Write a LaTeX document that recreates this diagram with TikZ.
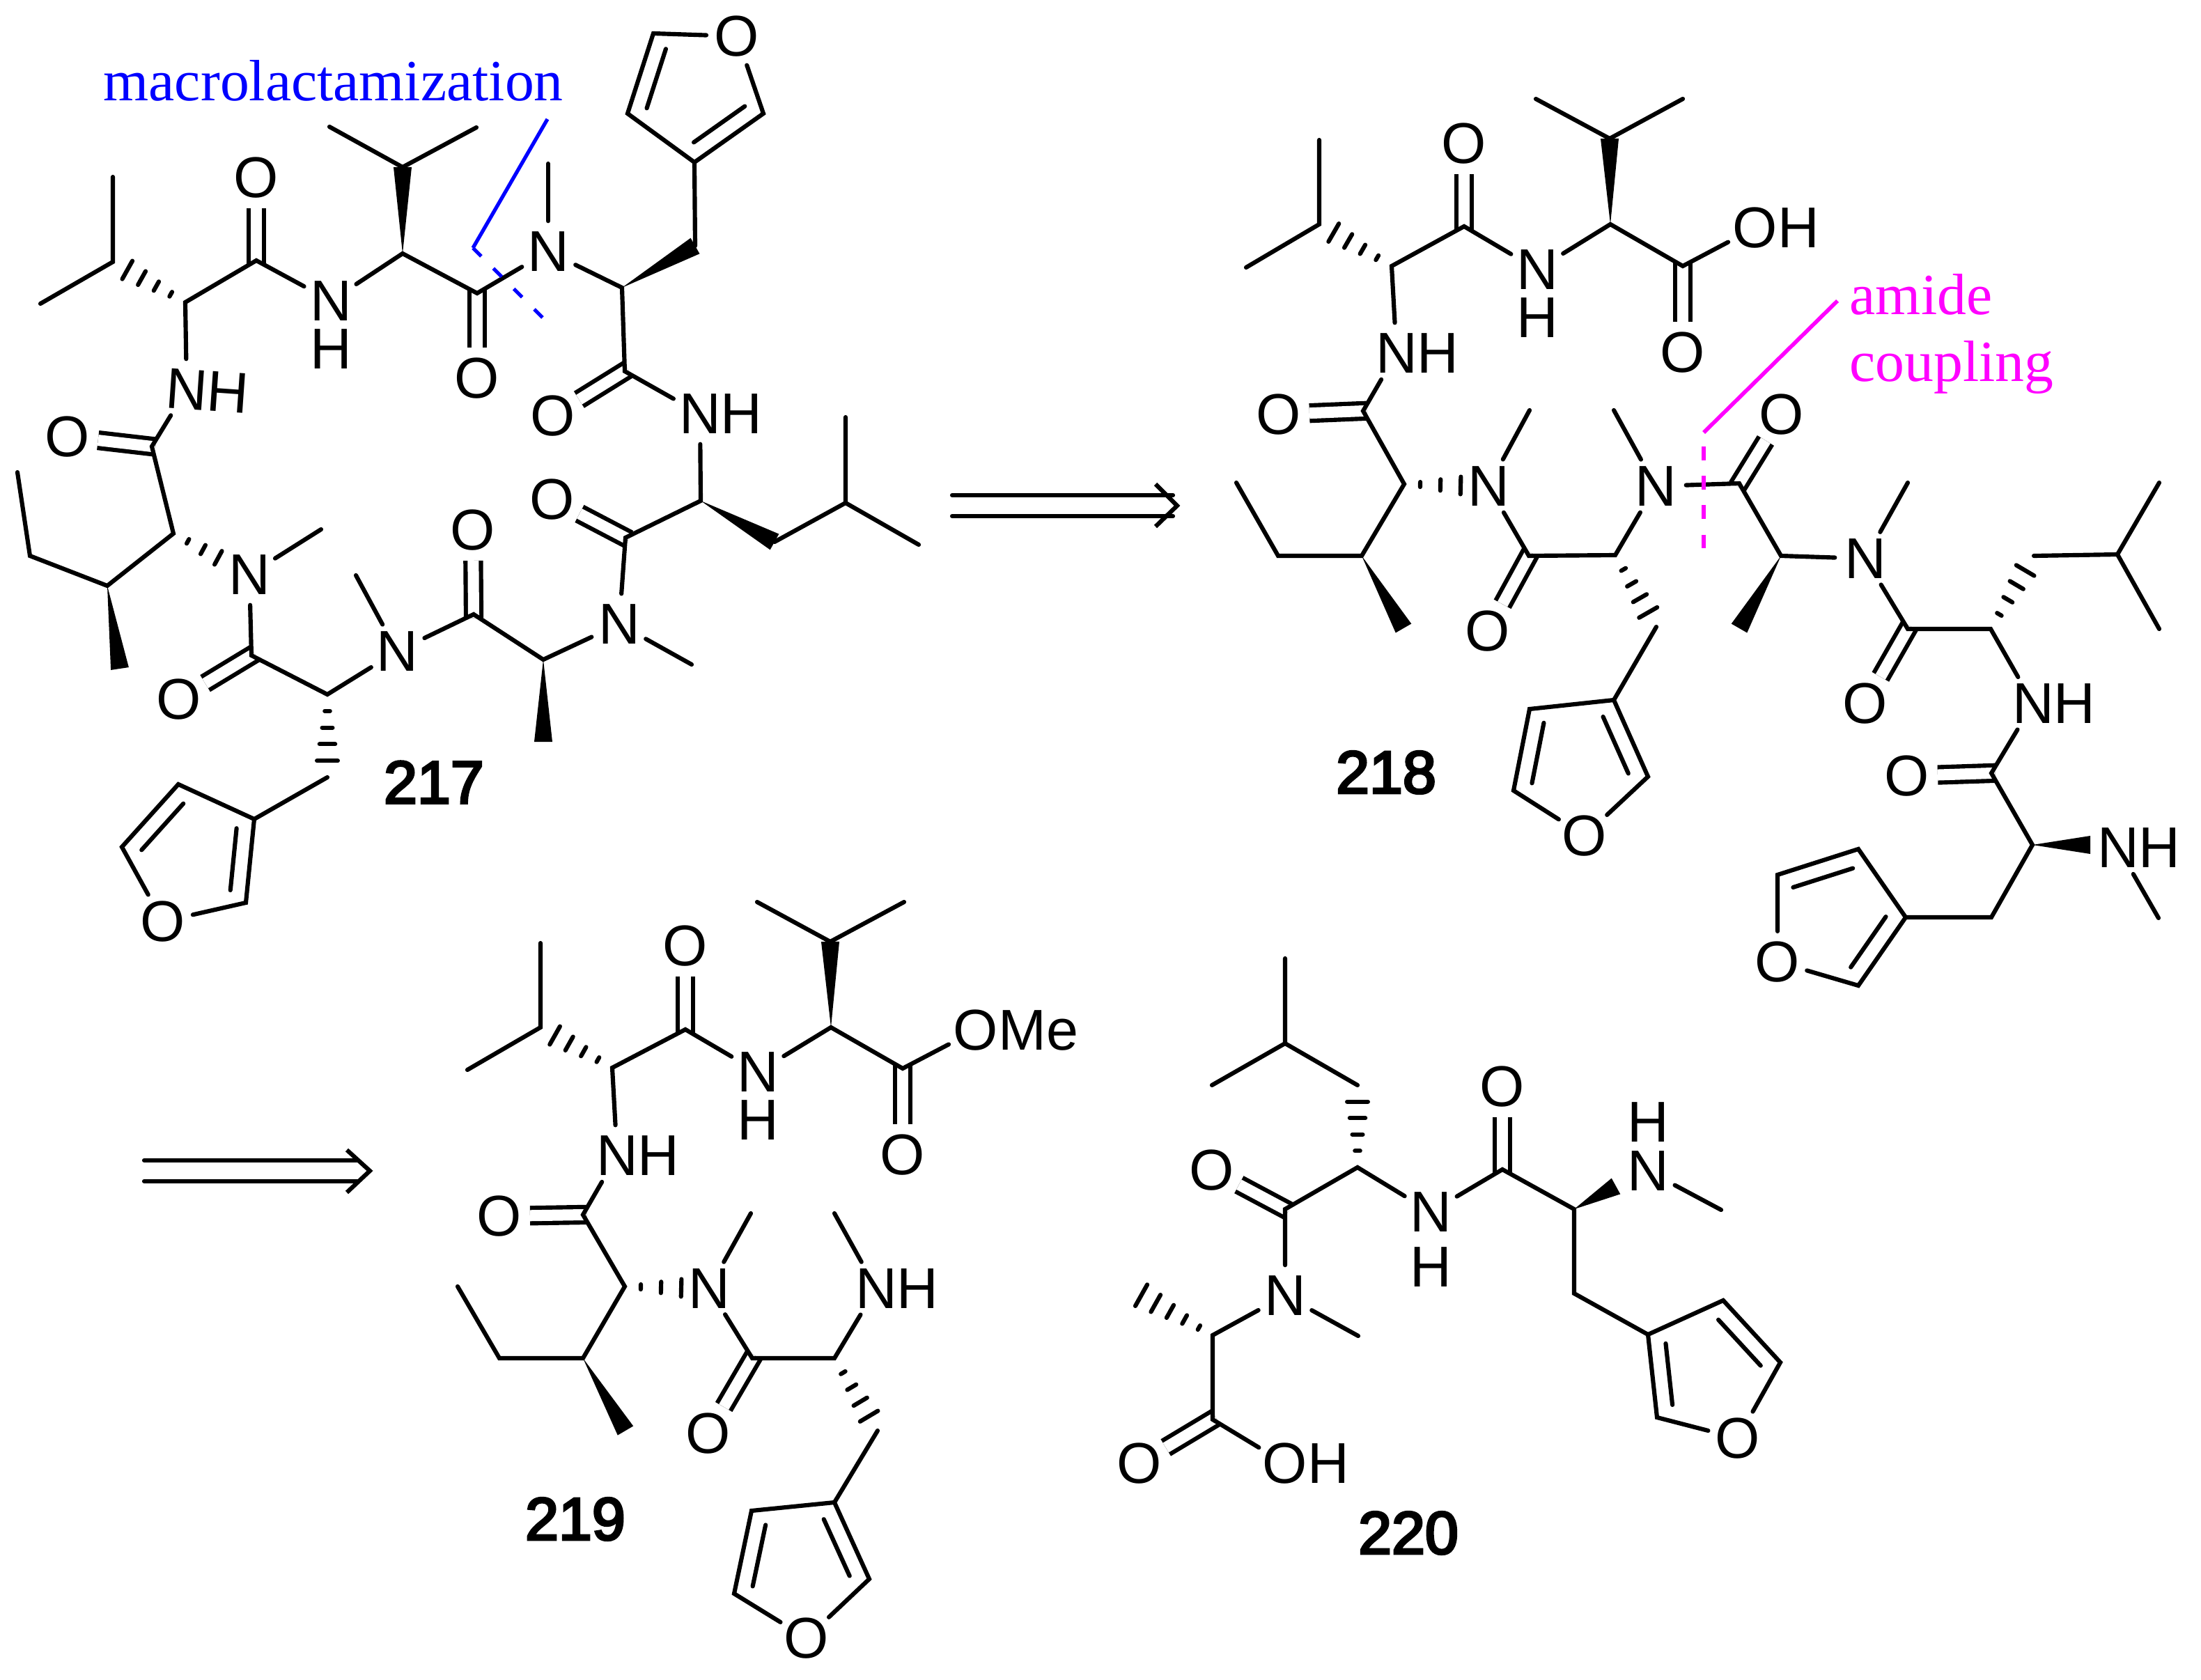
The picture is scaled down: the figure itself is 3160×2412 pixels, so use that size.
\documentclass[tikz,border=0pt]{standalone}
\usepackage{fontspec}
\setmainfont{Liberation Sans}
\newfontfamily\notefont{Liberation Serif}
\newfontfamily\cpdfont[FakeBold=4]{Liberation Sans}
\usetikzlibrary{calc}
\definecolor{noteblue}{RGB}{0,0,255}
\definecolor{notepink}{RGB}{255,0,255}
\tikzset{
bond/.style={line width=1.75pt,line cap=round,line join=miter},
dblbond/.style={line width=1.75pt,double,double distance=4.55pt,line cap=butt,shorten <=-1.5pt},
atom/.style={circle,minimum size=0.86cm,inner sep=0pt,font=\fontsize{23.5}{26}\selectfont},
atomh/.style={inner sep=0pt,font=\fontsize{23.5}{26}\selectfont},
cpdlabel/.style={inner sep=0pt,font=\fontsize{24.5}{28}\selectfont\cpdfont},
note/.style={inner sep=0pt,anchor=base west,font=\fontsize{23.8}{28}\selectfont\notefont},
}
\newcommand{\wedgebond}[2]{\fill ($(#1)$) -- ($(#2)!3.7pt!90:(#1)$) -- ($(#2)!3.7pt!-90:(#1)$) -- cycle;}
\newcommand{\hashbond}[3][0.2,0.4,0.6,0.8]{
\foreach \f in {#1}{
\pgfmathsetmacro{\hw}{\f*5.3}
\draw[bond] ($(#2)!\f!(#3)!\hw pt!90:(#3)$) -- ($(#2)!\f!(#3)!\hw pt!-90:(#3)$);
}
}
\newcommand{\ringbond}[2]{\draw[bond] ($(#1)!0.13!(#2)!6.8pt!-90:(#2)$) -- ($(#1)!0.87!(#2)!6.8pt!-90:(#2)$);}
\begin{document}
\begin{tikzpicture}[x=0.01cm,y=-0.01cm]
\useasboundingbox (0,0) rectangle (3160,2412);
\foreach \n/\x/\y in {
am1/162/254, aiso/162/376, am2/58/436, aa1/266/434, ac1/368/374, aa2/578/364, atop/578/240,
am3/473/182, am4/684/183, ac2/685/421, ame3/787/235, aa3/893/413, ach2/998/353, af1/997/233,
af2/901/163, af3/938/48, af5/1096/163, ac3/897/533, aa4/1006/719, awd4/1112/778, aiso2/1214/722,
am5/1214/599, am6/1319/782, ac4/898/772, ame5/993/954, aa5/780/947, awd5/780/1065, ac5/680/882,
ame6/511/826, aa6/470/997, ach3/470/1116, ag1/365/1176, ag2/353/1296, ag4/175/1216, ag5/256/1126,
ac6/361/941, ame7/461/760, aa7/249/766, asb/154/841, awd7/172/960, ach4/43/798, am7/25/678, ac7/218/641,
bm1/1894/201, biso/1894/322, bm2/1789/384, ba1/1998/382, bc1/2102/325, ba2/2312/322, btop/2311/199,
bm3/2205/142, bm4/2416/142, bc2/2416/382, bc3/1957/590, ba3/2016/695, bme4/2196/589, bsb/1955/798,
bch1/1835/798, bm5/1775/693, bwd3/2015/902, bc4/2195/798, ba4/2319/797, bme5/2317/589, bch2/2378/900,
bf1/2317/1005, bf2/2366/1115, bf4/2173/1135, bf5/2196/1018, bc5/2497/694, ba5/2557/798, bwd5/2497/902,
bme6/2739/693, bc6/2739/903, ba6/2858/903, bch3/2920/798, biso2/3040/796, bm6/3100/693, bm7/3100/903,
bc7/2859/1110, ba7/2918/1213, bwd7/3001/1213, bme8/3099/1318, bch4/2859/1317, bg1/2736/1317,
bg2/2668/1415, bg4/2552/1256, bg5/2668/1219,
cm1/776/1354, ciso/776/1475, cm2/671/1536, ca1/879/1533, cc1/984/1478, ca2/1193/1475, ctop/1192/1352,
cm3/1087/1295, cm4/1298/1295, cc2/1296/1534, cc3/837/1744, ca3/897/1847, cme4/1078/1742, csb/837/1950,
cch1/717/1950, cm5/657/1847, cwd3/898/2054, cc4/1080/1950, ca4/1198/1950, cme5/1198/1742, cch2/1260/2054,
cf1/1198/2157, cf2/1248/2267, cf4/1054/2288, cf5/1079/2169,
dm1/1845/1376, diso/1845/1498, dm2/1740/1558, dch1/1949/1558, da1/1949/1676, dc1/1845/1736, dc2/2157/1679,
da2/2260/1736, dwd2/2320/1703, dme3/2471/1737, dch2/2260/1857, df1/2366/1916, df2/2474/1867, df3/2556/1956,
df5/2379/2035, dme4/1950/1918, da3/1741/1917, dend/1632/1856, dc3/1741/2038,
ar1a/1367/711, ar1b/1684/711, ar1c/1367/741, ar1d/1684/741, ar1t/1690/726, ar1u/1659/695, ar1v/1659/756,
ar2a/207/1666, ar2b/513/1666, ar2c/207/1696, ar2d/513/1696, ar2t/531/1681, ar2u/498/1651, ar2v/498/1712,
ml1/786/171, ml2/679/356, ml3/781/458, am8/2638/432, am9/2446/621, am10/2446/641, am11/2446/787
}{\coordinate (\n) at (\x,\y);}
\foreach \n/\x/\y/\t in {
aO1/368/255/O, aN1/475/432/N, aO2/685/543/O, aN3/787/361/N, aO3/794/597/O, aN4/1005/594/N\rlap{H},
aO4/793/717/O, aN5/889/896/N, aO5/679/761/O, aN6/570/935/N, aO6/257/1004/O, aN7/358/825/N, aO7/97/627/O,
af4/1058/52/O, ag3/234/1323/O,
bO1/2102/206/O, bN2/2207/387/N, bO2/2416/506/O, bOH/2520/327/O\rlap{H}, bN3/2005/507/N\rlap{H}, bO3/1836/595/O,
bN4/2137/698/N, bO4/2136/906/O, bN5/2377/698/N, bO5/2558/595/O, bN6/2678/802/N, bO6/2678/1010/O,
bN7/2919/1010/N\rlap{H}, bO7/2738/1114/O, bN8/3041/1217/N\rlap{H}, bf3/2275/1200/O, bg3/2552/1381/O,
cO1/984/1358/O, cN2/1088/1539/N, cO2/1296/1658/O, cOM/1401/1479/O\rlap{Me}, cN3/886/1659/N\rlap{H}, cO3/717/1746/O,
cN4/1018/1850/N, cO4/1017/2058/O, cN5/1258/1850/N\rlap{H}, cf3/1158/2352/O,
dO1/1740/1680/O, dN2/2054/1740/N, dO2/2157/1560/O, dN3/2366/1681/N, dN4/1845/1860/N, dO3/1636/2101/O,
dOH/1845/2101/O\rlap{H}, df4/2495/2065/O
}{\node[atom] (\n) at (\x,\y) {\t};}
\node[atom,rotate=-4] (aN2) at (268,559) {N\rlap{H}};
\foreach \n/\x/\y in {aH1/475/501, bH2/2207/456, cH2/1088/1608, dH2/2054/1819, dH3/2366/1611}{
\node[atomh] (\n) at (\x,\y) {H};
}
\foreach \c/\o in {ac1/aO1, ac2/aO2, ac3/aO3, ac4/aO4, ac5/aO5, ac6/aO6, ac7/aO7,
bc1/bO1, bc2/bO2, bc3/bO3, bc4/bO4, bc5/bO5, bc6/bO6, bc7/bO7,
cc1/cO1, cc2/cO2, cc3/cO3, cc4/cO4, dc1/dO1, dc2/dO2, dc3/dO3}{
\draw[dblbond] (\c) -- (\o);
}
\draw[bond] (am1) -- (aiso) -- (am2);
\draw[bond] (aN2) -- (aa1) -- (ac1) -- (aN1);
\draw[bond] (aN1) -- (aa2) -- (ac2) -- (aN3) -- (aa3) -- (ac3) -- (aN4) -- (aa4) -- (ac4) -- (aN5) -- (aa5) -- (ac5) -- (aN6) -- (aa6) -- (ac6) -- (aN7);
\draw[bond] (am3) -- (atop) -- (am4);
\draw[bond] (aN3) -- (ame3);
\draw[bond] (ach2) -- (af1) -- (af2) -- (af3) -- (af4) -- (af5) -- (af1);
\draw[bond] (am5) -- (aiso2) -- (am6);
\draw[bond] (aiso2) -- (awd4);
\draw[bond] (aN5) -- (ame5);
\draw[bond] (aN6) -- (ame6);
\draw[bond] (aN7) -- (ame7);
\draw[bond] (ach3) -- (ag1) -- (ag2) -- (ag3) -- (ag4) -- (ag5) -- (ag1);
\draw[bond] (aN2) -- (ac7) -- (aa7) -- (asb) -- (ach4) -- (am7);
\wedgebond{aa2}{atop}
\wedgebond{aa3}{ach2}
\wedgebond{aa4}{awd4}
\wedgebond{aa5}{awd5}
\wedgebond{asb}{awd7}
\hashbond{aa1}{aiso}
\hashbond{aa6}{ach3}
\hashbond[0.19,0.39,0.59]{aa7}{aN7}
\ringbond{af2}{af3}
\ringbond{af5}{af1}
\ringbond{ag1}{ag2}
\ringbond{ag4}{ag5}
\draw[bond] (bm1) -- (biso) -- (bm2);
\draw[bond] (bN3) -- (ba1) -- (bc1) -- (bN2) -- (ba2) -- (bc2) -- (bOH);
\draw[bond] (bm3) -- (btop) -- (bm4);
\draw[bond] (bN3) -- (bc3) -- (ba3) -- (bsb) -- (bch1) -- (bm5);
\draw[bond] (bN4) -- (bc4) -- (ba4) -- (bN5) -- (bc5) -- (ba5) -- (bN6) -- (bc6) -- (ba6) -- (bN7) -- (bc7) -- (ba7) -- (bch4) -- (bg1);
\draw[bond] (bN4) -- (bme4);
\draw[bond] (bN5) -- (bme5);
\draw[bond] (bN6) -- (bme6);
\draw[bond] (bN8) -- (bme8);
\draw[bond] (bch2) -- (bf1) -- (bf2) -- (bf3) -- (bf4) -- (bf5) -- (bf1);
\draw[bond] (bch3) -- (biso2) -- (bm6);
\draw[bond] (biso2) -- (bm7);
\draw[bond] (bg1) -- (bg2) -- (bg3) -- (bg4) -- (bg5) -- (bg1);
\wedgebond{ba2}{btop}
\wedgebond{bsb}{bwd3}
\wedgebond{ba5}{bwd5}
\wedgebond{ba7}{bwd7}
\hashbond{ba1}{biso}
\hashbond[0.19,0.43,0.67]{ba3}{bN4}
\hashbond{ba4}{bch2}
\hashbond{ba6}{bch3}
\ringbond{bf1}{bf2}
\ringbond{bf4}{bf5}
\ringbond{bg1}{bg2}
\ringbond{bg4}{bg5}
\draw[bond] (cm1) -- (ciso) -- (cm2);
\draw[bond] (cN3) -- (ca1) -- (cc1) -- (cN2) -- (ca2) -- (cc2) -- (cOM);
\draw[bond] (cm3) -- (ctop) -- (cm4);
\draw[bond] (cN3) -- (cc3) -- (ca3) -- (csb) -- (cch1) -- (cm5);
\draw[bond] (cN4) -- (cc4) -- (ca4) -- (cN5) -- (cme5);
\draw[bond] (cN4) -- (cme4);
\draw[bond] (cch2) -- (cf1) -- (cf2) -- (cf3) -- (cf4) -- (cf5) -- (cf1);
\wedgebond{ca2}{ctop}
\wedgebond{csb}{cwd3}
\hashbond{ca1}{ciso}
\hashbond[0.19,0.43,0.67]{ca3}{cN4}
\hashbond{ca4}{cch2}
\ringbond{cf1}{cf2}
\ringbond{cf4}{cf5}
\draw[bond] (dm1) -- (diso) -- (dm2);
\draw[bond] (diso) -- (dch1);
\draw[bond] (dN2) -- (da1) -- (dc1) -- (dN4) -- (da3) -- (dc3) -- (dOH);
\draw[bond] (dN2) -- (dc2) -- (da2) -- (dch2) -- (df1) -- (df2) -- (df3) -- (df4) -- (df5) -- (df1);
\draw[bond] (dN3) -- (dme3);
\draw[bond] (dN4) -- (dme4);
\wedgebond{da2}{dwd2}
\hashbond{da1}{dch1}
\hashbond[0.18,0.37,0.56,0.75,0.94]{da3}{dend}
\ringbond{df2}{df3}
\ringbond{df5}{df1}
\draw[bond] (ar1a) -- (ar1b);
\draw[bond] (ar1c) -- (ar1d);
\draw[bond,line cap=butt] (ar1u) -- (ar1t) -- (ar1v);
\draw[bond] (ar2a) -- (ar2b);
\draw[bond] (ar2c) -- (ar2d);
\draw[bond,line cap=butt] (ar2u) -- (ar2t) -- (ar2v);
\draw[noteblue,line width=1.5pt] (ml1) -- (ml2);
\draw[noteblue,line width=1.5pt,dash pattern=on 4.8pt off 7pt] (ml2) -- (ml3);
\draw[notepink,line width=1.6pt] (am8) -- (am9);
\draw[notepink,line width=1.6pt,dash pattern=on 5.7pt off 6.3pt] (am10) -- (am11);
\node[note,text=noteblue] (nmacro) at (148,145) {macrolactamization};
\node[note,text=notepink] (namide) at (2655,451) {amide};
\node[note,text=notepink] (ncoup) at (2655,547) {coupling};
\node[cpdlabel] (l217) at (623,1123) {217};
\node[cpdlabel] (l218) at (1990,1109) {218};
\node[cpdlabel] (l219) at (826,2181) {219};
\node[cpdlabel] (l220) at (2022,2201) {220};
\end{tikzpicture}
\end{document}
